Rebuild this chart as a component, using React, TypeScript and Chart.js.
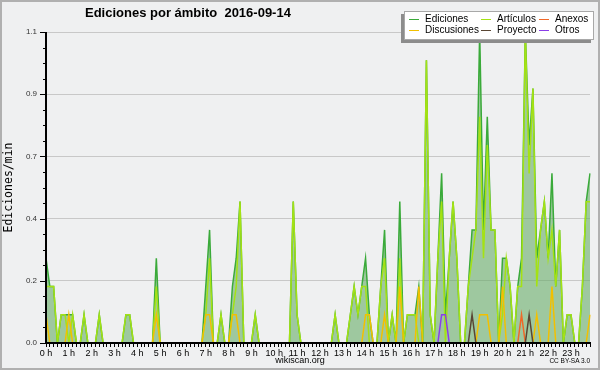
import React, { useEffect, useRef } from 'react';
import { Chart, registerables } from 'chart.js';

Chart.register(...registerables);

// 10-minute bins over the day
const timeLabels: string[] = Array.from({ length: 144 }, (_, i) =>
  `${String(Math.floor(i / 6)).padStart(2, '0')}:${String((i % 6) * 10).padStart(2, '0')}`
);

const hourLabels: string[] = [
  '0 h', '1 h', '2 h', '3 h', '4 h', '5 h', '6 h', '7 h', '8 h', '9 h', '10 h', '11 h',
  '12 h', '13 h', '14 h', '15 h', '16 h', '17 h', '18 h', '19 h', '20 h', '21 h', '22 h', '23 h',
];

const yTickValues: number[] = [0, 0.22, 0.44, 0.66, 0.88, 1.1];
const yMinorValues: number[] = [
  0, 0.055, 0.11, 0.165, 0.22, 0.275, 0.33, 0.385, 0.44, 0.495, 0.55,
  0.605, 0.66, 0.715, 0.77, 0.825, 0.88, 0.935, 0.99, 1.045, 1.1,
];

const ediciones: number[] = [
  0.3, 0.2, 0.2, 0, 0.1, 0.1, 0.1, 0.1, 0, 0, 0.1, 0,
  0, 0, 0.1, 0, 0, 0, 0, 0, 0, 0.1, 0.1, 0,
  0, 0, 0, 0, 0, 0.3, 0, 0, 0, 0, 0, 0,
  0, 0, 0, 0, 0, 0, 0.2, 0.4, 0, 0, 0.1, 0,
  0, 0.2, 0.3, 0.5, 0, 0, 0, 0.1, 0, 0, 0, 0,
  0, 0, 0, 0, 0, 0.5, 0.1, 0, 0, 0, 0, 0,
  0, 0, 0, 0, 0.1, 0, 0, 0, 0.1, 0.2, 0.1, 0.2,
  0.3, 0.1, 0, 0, 0.2, 0.4, 0, 0.1, 0, 0.5, 0, 0.1,
  0.1, 0.1, 0.2, 0, 1.0, 0.1, 0, 0.3, 0.6, 0.1, 0.3, 0.5,
  0.3, 0, 0, 0.2, 0.4, 0.4, 1.1, 0.4, 0.8, 0.4, 0.4, 0,
  0.3, 0.3, 0.2, 0, 0.2, 0.3, 1.1, 0.7, 0.9, 0.3, 0.4, 0.5,
  0.3, 0.6, 0.2, 0.4, 0, 0.1, 0.1, 0, 0, 0.2, 0.5, 0.6,
];

const articulos: number[] = [
  0.2, 0.2, 0.2, 0, 0.1, 0.1, 0, 0.1, 0, 0, 0.1, 0,
  0, 0, 0.1, 0, 0, 0, 0, 0, 0, 0.1, 0.1, 0,
  0, 0, 0, 0, 0, 0.2, 0, 0, 0, 0, 0, 0,
  0, 0, 0, 0, 0, 0, 0.1, 0.3, 0, 0, 0.1, 0,
  0, 0.1, 0.2, 0.5, 0, 0, 0, 0.1, 0, 0, 0, 0,
  0, 0, 0, 0, 0, 0.5, 0.1, 0, 0, 0, 0, 0,
  0, 0, 0, 0, 0.1, 0, 0, 0, 0.1, 0.2, 0.1, 0.2,
  0.2, 0, 0, 0, 0.2, 0.3, 0, 0.1, 0, 0.3, 0, 0.1,
  0.1, 0.1, 0, 0, 1.0, 0.1, 0, 0.3, 0.5, 0, 0.3, 0.5,
  0.3, 0, 0, 0.2, 0.3, 0.4, 0.8, 0.3, 0.7, 0.4, 0.4, 0,
  0.1, 0.3, 0.2, 0, 0.2, 0.2, 1.1, 0.6, 0.9, 0.2, 0.4, 0.5,
  0.3, 0.4, 0.2, 0.4, 0, 0.1, 0.1, 0, 0, 0.2, 0.5, 0.5,
];

const discusiones: number[] = [
  0.1, 0, 0, 0, 0, 0, 0.1, 0, 0, 0, 0, 0,
  0, 0, 0, 0, 0, 0, 0, 0, 0, 0, 0, 0,
  0, 0, 0, 0, 0, 0.1, 0, 0, 0, 0, 0, 0,
  0, 0, 0, 0, 0, 0, 0.1, 0.1, 0, 0, 0, 0,
  0, 0.1, 0.1, 0, 0, 0, 0, 0, 0, 0, 0, 0,
  0, 0, 0, 0, 0, 0, 0, 0, 0, 0, 0, 0,
  0, 0, 0, 0, 0, 0, 0, 0, 0, 0, 0, 0,
  0.1, 0.1, 0, 0, 0, 0.1, 0, 0, 0, 0.2, 0, 0,
  0, 0, 0.2, 0, 0, 0, 0, 0, 0, 0, 0, 0,
  0, 0, 0, 0, 0, 0, 0.1, 0.1, 0.1, 0, 0, 0,
  0.2, 0, 0, 0, 0, 0, 0, 0, 0, 0.1, 0, 0,
  0, 0.2, 0, 0, 0, 0, 0, 0, 0, 0, 0, 0.1,
];

const anexos: number[] = [
  0, 0, 0, 0, 0, 0, 0, 0, 0, 0, 0, 0,
  0, 0, 0, 0, 0, 0, 0, 0, 0, 0, 0, 0,
  0, 0, 0, 0, 0, 0, 0, 0, 0, 0, 0, 0,
  0, 0, 0, 0, 0, 0, 0, 0, 0, 0, 0, 0,
  0, 0, 0, 0, 0, 0, 0, 0, 0, 0, 0, 0,
  0, 0, 0, 0, 0, 0, 0, 0, 0, 0, 0, 0,
  0, 0, 0, 0, 0, 0, 0, 0, 0, 0, 0, 0,
  0, 0, 0, 0, 0, 0, 0, 0, 0, 0, 0, 0,
  0, 0, 0, 0, 0, 0, 0, 0, 0, 0, 0, 0,
  0, 0, 0, 0, 0, 0, 0, 0, 0, 0, 0, 0,
  0, 0, 0, 0, 0, 0.1, 0, 0, 0, 0, 0, 0,
  0, 0, 0, 0, 0, 0, 0, 0, 0, 0, 0, 0,
];

const proyecto: number[] = [
  0, 0, 0, 0, 0, 0, 0, 0, 0, 0, 0, 0,
  0, 0, 0, 0, 0, 0, 0, 0, 0, 0, 0, 0,
  0, 0, 0, 0, 0, 0, 0, 0, 0, 0, 0, 0,
  0, 0, 0, 0, 0, 0, 0, 0, 0, 0, 0, 0,
  0, 0, 0, 0, 0, 0, 0, 0, 0, 0, 0, 0,
  0, 0, 0, 0, 0, 0, 0, 0, 0, 0, 0, 0,
  0, 0, 0, 0, 0, 0, 0, 0, 0, 0, 0, 0,
  0, 0, 0, 0, 0, 0, 0, 0, 0, 0, 0, 0,
  0, 0, 0, 0, 0, 0, 0, 0, 0, 0, 0, 0,
  0, 0, 0, 0, 0.1, 0, 0, 0, 0, 0, 0, 0,
  0, 0, 0, 0, 0, 0, 0, 0.1, 0, 0, 0, 0,
  0, 0, 0, 0, 0, 0, 0, 0, 0, 0, 0, 0,
];

const otros: number[] = [
  0, 0, 0, 0, 0, 0, 0, 0, 0, 0, 0, 0,
  0, 0, 0, 0, 0, 0, 0, 0, 0, 0, 0, 0,
  0, 0, 0, 0, 0, 0, 0, 0, 0, 0, 0, 0,
  0, 0, 0, 0, 0, 0, 0, 0, 0, 0, 0, 0,
  0, 0, 0, 0, 0, 0, 0, 0, 0, 0, 0, 0,
  0, 0, 0, 0, 0, 0, 0, 0, 0, 0, 0, 0,
  0, 0, 0, 0, 0, 0, 0, 0, 0, 0, 0, 0,
  0, 0, 0, 0, 0, 0, 0, 0, 0, 0, 0, 0,
  0, 0, 0, 0, 0, 0, 0, 0, 0.1, 0.1, 0, 0,
  0, 0, 0, 0, 0, 0, 0, 0, 0, 0, 0, 0,
  0, 0, 0, 0, 0, 0, 0, 0, 0, 0, 0, 0,
  0, 0, 0, 0, 0, 0, 0, 0, 0, 0, 0, 0,
];

const COLORS = {
  ediciones: '#3aaa3a',
  edicionesFill: 'rgba(100,170,100,0.58)',
  articulos: '#a4e214',
  discusiones: '#f2c000',
  anexos: '#f06828',
  proyecto: '#5a4634',
  otros: '#8a3ee8',
};

const legendItems = [
  { label: 'Ediciones', color: COLORS.ediciones },
  { label: 'Artículos', color: COLORS.articulos },
  { label: 'Anexos', color: COLORS.anexos },
  { label: 'Discusiones', color: COLORS.discusiones },
  { label: 'Proyecto', color: COLORS.proyecto },
  { label: 'Otros', color: COLORS.otros },
];

const SANS = '"Liberation Sans", Arial, sans-serif';

export default function App() {
  const ref = useRef<HTMLCanvasElement>(null);

  useEffect(() => {
    document.body.style.margin = '0';
    if (!ref.current) return;

    const axisPlugin = {
      id: 'axisOverlay',
      afterDatasetsDraw(chart: any) {
        const { ctx, chartArea: a, scales } = chart;
        const ys = scales.y;
        ctx.save();
        ctx.strokeStyle = '#000';
        ctx.lineWidth = 1;
        yMinorValues.forEach((v, k) => {
          const py = Math.round(ys.getPixelForValue(v)) + 0.5;
          const len = k % 4 === 0 ? 6 : 3;
          ctx.beginPath();
          ctx.moveTo(a.left - len, py);
          ctx.lineTo(a.left, py);
          ctx.stroke();
        });
        ctx.lineWidth = 2;
        ctx.beginPath();
        ctx.moveTo(a.left, a.top);
        ctx.lineTo(a.left, a.bottom + 1);
        ctx.moveTo(a.left - 1, a.bottom);
        ctx.lineTo(a.right + 1, a.bottom);
        ctx.stroke();
        ctx.restore();
      },
    };

    const lineDs = (label: string, data: number[], color: string, order: number) => ({
      label,
      data,
      borderColor: color,
      backgroundColor: color,
      borderWidth: 1.5,
      fill: false,
      pointRadius: 0,
      tension: 0,
      order,
    });

    const chart = new Chart(ref.current, {
      type: 'line',
      data: {
        labels: timeLabels,
        datasets: [
          {
            label: 'Ediciones',
            data: ediciones,
            borderColor: COLORS.ediciones,
            backgroundColor: COLORS.edicionesFill,
            borderWidth: 1.5,
            fill: 'origin',
            pointRadius: 0,
            tension: 0,
            order: 10,
          },
          lineDs('Artículos', articulos, COLORS.articulos, 5),
          lineDs('Discusiones', discusiones, COLORS.discusiones, 4),
          lineDs('Anexos', anexos, COLORS.anexos, 3),
          lineDs('Proyecto', proyecto, COLORS.proyecto, 2),
          lineDs('Otros', otros, COLORS.otros, 1),
        ],
      },
      options: {
        animation: false,
        responsive: false,
        maintainAspectRatio: false,
        layout: { padding: { top: 32, right: 10, left: 0, bottom: 0 } },
        plugins: {
          legend: { display: false },
          tooltip: { enabled: false },
          title: { display: false },
        },
        scales: {
          x: {
            type: 'category',
            offset: false,
            border: { display: false },
            grid: {
              display: true,
              drawOnChartArea: false,
              drawTicks: true,
              tickLength: 4,
              tickColor: '#000',
              tickWidth: 1,
            },
            ticks: {
              autoSkip: false,
              maxRotation: 0,
              minRotation: 0,
              padding: 1,
              color: '#000',
              font: { family: SANS, size: 9 },
              callback: (_v: any, i: number) => (i % 6 === 0 ? hourLabels[i / 6] : ''),
            },
            afterFit: (s: any) => {
              s.height = 27;
            },
          },
          y: {
            type: 'linear',
            min: 0,
            max: 1.1,
            border: { display: false },
            afterBuildTicks: (s: any) => {
              s.ticks = yTickValues.map((v) => ({ value: v }));
            },
            afterFit: (s: any) => {
              s.width = 46;
            },
            grid: { color: '#c8c8c8', drawTicks: false, lineWidth: 1 },
            ticks: {
              padding: 9,
              color: '#333',
              font: { family: SANS, size: 8 },
              callback: (v: any) => Number(v).toFixed(1),
            },
            title: {
              display: true,
              text: 'Ediciones/min',
              color: '#000',
              font: { family: '"DejaVu Sans Mono", monospace', size: 11.5 },
              padding: { top: 2, bottom: 0 },
            },
          },
        },
      },
      plugins: [axisPlugin],
    });

    return () => chart.destroy();
  }, []);

  const colLeft = [4, 76, 134];

  return (
    <div
      style={{
        position: 'relative',
        width: 600,
        height: 370,
        background: '#eff0f1',
        overflow: 'hidden',
        fontFamily: SANS,
      }}
    >
      <canvas ref={ref} width={600} height={370} style={{ position: 'absolute', left: 0, top: 0, display: 'block' }} />
      <div
        style={{
          position: 'absolute',
          left: 85,
          top: 5,
          fontSize: 13,
          fontWeight: 'bold',
          whiteSpace: 'pre',
          color: '#000',
          fontFamily: SANS,
        }}
      >
        {'Ediciones por ámbito  2016-09-14'}
      </div>
      <div
        style={{
          position: 'absolute',
          left: 404,
          top: 11,
          width: 188,
          height: 27,
          background: '#fff',
          border: '1px solid #a8a8a8',
          boxShadow: '-3px 3px 0 #8c8c8c',
        }}
      >
        {legendItems.map((it, idx) => {
          const col = idx % 3;
          const row = Math.floor(idx / 3);
          return (
            <div
              key={it.label}
              style={{
                position: 'absolute',
                left: colLeft[col],
                top: 1 + row * 11,
                height: 12,
                display: 'flex',
                alignItems: 'center',
                fontSize: 10,
                lineHeight: '12px',
                color: '#000',
                whiteSpace: 'nowrap',
              }}
            >
              <span style={{ display: 'inline-block', width: 10, height: 1, background: it.color, marginRight: 6 }} />
              <span>{it.label}</span>
            </div>
          );
        })}
      </div>
      <div
        style={{
          position: 'absolute',
          left: 0,
          width: 600,
          top: 355,
          textAlign: 'center',
          fontSize: 9,
          color: '#000',
        }}
      >
        wikiscan.org
      </div>
      <div
        style={{
          position: 'absolute',
          right: 10,
          top: 357,
          fontSize: 6.5,
          color: '#000',
        }}
      >
        CC BY-SA 3.0
      </div>
      <div
        style={{
          position: 'absolute',
          left: 0,
          top: 0,
          width: 600,
          height: 370,
          boxSizing: 'border-box',
          border: '2px solid #b0b0b0',
          pointerEvents: 'none',
        }}
      />
    </div>
  );
}
